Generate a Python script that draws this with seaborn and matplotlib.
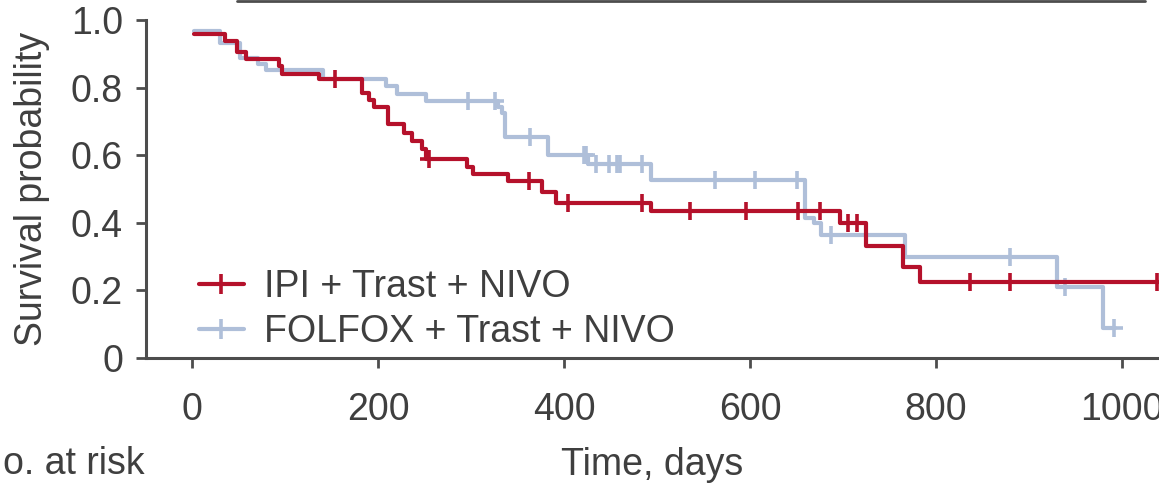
import numpy as np
import pandas as pd
import matplotlib
matplotlib.use("Agg")
import matplotlib.pyplot as plt
from matplotlib.lines import Line2D
import seaborn as sns

# ---------------- data ----------------
series_names = ["IPI + Trast + NIVO", "FOLFOX + Trast + NIVO"]

red_time = [2, 35, 48, 58, 93, 97, 137, 183, 190, 196, 211, 228, 236, 247, 252,
            296, 302, 340, 376, 391, 493, 697, 725, 764, 783, 1045]
red_surv = [0.958, 0.938, 0.906, 0.884, 0.864, 0.839, 0.824, 0.783, 0.763, 0.742,
            0.692, 0.667, 0.642, 0.617, 0.588, 0.566, 0.543, 0.523, 0.492, 0.460,
            0.436, 0.400, 0.332, 0.270, 0.226, 0.226]
red_censor = [154, 255, 362, 404, 484, 536, 596, 652, 675, 705, 715, 837, 880, 1038]

blue_time = [2, 30, 52, 71, 80, 141, 209, 220, 252, 329, 333, 337, 383, 426, 494,
             659, 669, 676, 767, 930, 980, 993]
blue_surv = [0.967, 0.933, 0.887, 0.869, 0.852, 0.826, 0.805, 0.781, 0.759, 0.744,
             0.726, 0.653, 0.601, 0.574, 0.528, 0.413, 0.400, 0.364, 0.300, 0.211,
             0.088, 0.088]
blue_censor = [297, 326, 363, 421, 424, 434, 448, 457, 460, 484, 562, 605, 651, 687,
               880, 939, 991]

x_ticks = [0, 200, 400, 600, 800, 1000]
y_ticks = [0, 0.2, 0.4, 0.6, 0.8, 1.0]
y_tick_labels = ["0", "0.2", "0.4", "0.6", "0.8", "1.0"]

# ---------------- style ----------------
RED = "#B5112B"
BLUE = "#AFBFD9"
GRAY = "#4D4D4D"
TXT = "#3F3F3F"

sns.set_theme(style="ticks")
plt.rcParams["font.family"] = ["Liberation Sans", "DejaVu Sans"]
FS = 27

W, H = 1159, 483
fig = plt.figure(figsize=(W / 100, H / 100), dpi=100)
ax = fig.add_axes([146 / W, 125 / H, 1013 / W, 338 / H])


def censor_y(times, surv, cens):
    t = np.asarray(times)
    s = np.asarray(surv)
    idx = np.searchsorted(t, np.asarray(cens), side="right") - 1
    return s[np.clip(idx, 0, len(s) - 1)]


colors = [RED, BLUE]
curves = [(red_time, red_surv, red_censor), (blue_time, blue_surv, blue_censor)]
LW = 3.0
# draw blue first so red sits on top
for k in [1, 0]:
    t, s, c = curves[k]
    df = pd.DataFrame({"time": t, "surv": s})
    sns.lineplot(data=df, x="time", y="surv", ax=ax, color=colors[k], linewidth=LW,
                 drawstyle="steps-post", estimator=None, sort=False, zorder=3 - k)
    cdf = pd.DataFrame({"time": c, "surv": censor_y(t, s, c)})
    sns.scatterplot(data=cdf, x="time", y="surv", ax=ax, color=colors[k],
                    marker="+", s=170, linewidth=2.6, zorder=3.5 - k)

ax.set_xlim(-49.5, 1039.8)
ax.set_ylim(0, 1.0)
ax.set_xticks(x_ticks)
ax.set_yticks(y_ticks)
ax.set_yticklabels(y_tick_labels)
ax.tick_params(axis="both", labelsize=FS, colors=GRAY, labelcolor=TXT,
               width=2.0, length=7.5)
ax.tick_params(axis="x", pad=17)
ax.tick_params(axis="y", pad=9)
for side in ["top", "right"]:
    ax.spines[side].set_visible(False)
for side in ["left", "bottom"]:
    ax.spines[side].set_color(GRAY)
    ax.spines[side].set_linewidth(2.2)

ax.set_ylabel("Survival probability", fontsize=FS, color=TXT)
ax.yaxis.set_label_coords(-0.095, 0.5)
ax.set_xlabel("Time, days", fontsize=FS, color=TXT, va="top")
ax.xaxis.set_label_coords(0.5, -0.262)

fig.text(144 / W, 1 - 474 / H, "No. at risk", fontsize=FS, color=TXT,
         ha="right", va="baseline")

handles = [Line2D([], [], color=colors[i], linewidth=LW, marker="+", markersize=15,
                  markeredgewidth=2.6) for i in range(2)]
leg = ax.legend(handles, series_names, loc="lower left", frameon=False,
                fontsize=FS, handlelength=1.2, handletextpad=0.55,
                labelspacing=0.23, borderpad=0.0, borderaxespad=0.0,
                bbox_to_anchor=(0.052, 0.024))
for txt in leg.get_texts():
    txt.set_color(TXT)

# partial frame line at top edge (belongs to the element above the plot)
fig.add_artist(Line2D([237 / W, 1145 / W], [1 - 1.3 / H, 1 - 1.3 / H],
                      transform=fig.transFigure, color=GRAY, lw=2.0))

fig.savefig("out.png", dpi=100)
